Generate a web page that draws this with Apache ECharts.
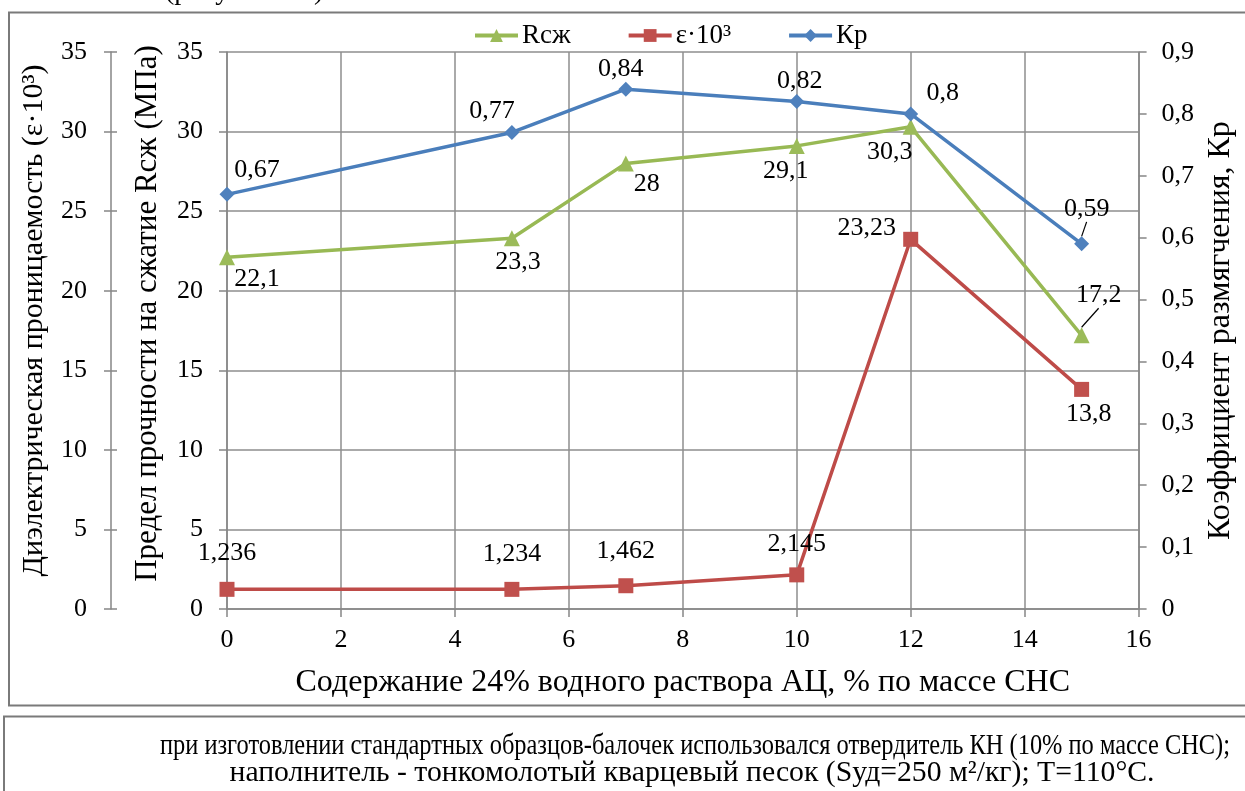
<!DOCTYPE html>
<html>
<head>
<meta charset="utf-8">
<script src="https://cdn.jsdelivr.net/npm/echarts@6/dist/echarts.min.js"></script>
<style>
  html, body { margin: 0; padding: 0; background: #fff; }
  #chart { width: 1245px; height: 791px; }
</style>
</head>
<body>
<div id="chart"></div>
<script>
// Содержание раствора АЦ, % по массе СНС
const concentration = [0, 5, 7, 10, 12, 15];
// Предел прочности на сжатие Rсж, МПа
const strength = [22.1, 23.3, 28, 29.1, 30.3, 17.2];
// Диэлектрическая проницаемость ε·10³
const permittivity = [1.236, 1.234, 1.462, 2.145, 23.23, 13.8];
// Коэффициент размягчения Кр
const softening = [0.67, 0.77, 0.84, 0.82, 0.8, 0.59];

const seriesNames = ['Rсж', 'ε·10³', 'Кр'];
const xTicks = { min: 0, max: 16, step: 2 };
const leftTicks = { min: 0, max: 35, step: 5 };
const rightTicks = { min: 0, max: 0.9, step: 0.1 };

const FONT = 'Liberation Serif';
const AXIS_GRAY = '#868686';
const GRID_GRAY = '#8e8e8e';
const NAME_SIZE = 32;

// label shifts (px) from each marker centre, per series
const labelShift = [
  [[30, 22], [6, 24], [21, 21], [-11, 25], [-21, 25], [17, -40]],
  [[0, -36], [0, -35], [0, -35], [0, -31], [-44, -11], [7, 25]],
  [[30, -24], [-20, -21], [-5, -20], [3, -20], [32, -21], [5, -35]]
];
// labels that get a leader line
const leaderLines = [[5], [], [5]];

const fmtComma = v => String(v).replace('.', ',');

function buildData(values, si) {
  return values.map((v, i) => ({
    value: [concentration[i], v],
    labelLine: { show: leaderLines[si].includes(i) }
  }));
}

const chart = echarts.init(document.getElementById('chart'), null, { renderer: 'canvas' });

const labelBase = {
  show: true,
  position: 'inside',
  color: '#000',
  fontFamily: FONT,
  fontSize: 26,
  formatter: p => fmtComma(p.value[1])
};

function labelLayout(p) {
  const s = labelShift[p.seriesIndex][p.dataIndex];
  return {
    x: p.rect.x + p.rect.width / 2 + s[0],
    y: p.rect.y + p.rect.height / 2 + s[1],
    align: 'center',
    verticalAlign: 'middle'
  };
}

const labelLineStyle = { show: false, lineStyle: { color: '#000', width: 1.2 } };

function yAxisCommon(range) {
  return {
    type: 'value',
    min: range.min,
    max: range.max,
    interval: range.step,
    axisLine: { show: true, lineStyle: { color: AXIS_GRAY, width: 1.5 } },
    axisTick: { show: true, length: 8, lineStyle: { color: AXIS_GRAY, width: 1.5 } },
    axisLabel: { color: '#000', fontFamily: FONT, fontSize: 26, margin: 24 },
    nameLocation: 'middle',
    nameRotate: 90,
    nameTextStyle: { color: '#000', fontFamily: FONT, fontSize: NAME_SIZE }
  };
}

// caption lines under the chart, condensed to their printed width
const captionLines = [
  'при изготовлении стандартных образцов-балочек использовался отвердитель КН (10% по массе СНС);',
  'наполнитель - тонкомолотый кварцевый песок (Sуд=250 м²/кг); Т=110°С.'
];
const captionWidths = [1070, 925];
const captionFont = 30;
const measureCtx = document.createElement('canvas').getContext('2d');
measureCtx.font = captionFont + 'px "Liberation Serif"';

const captionGraphics = captionLines.map((t, i) => {
  const w = measureCtx.measureText(t).width;
  return {
    type: 'text',
    x: [695, 692][i],
    y: [746, 773][i],
    scaleX: captionWidths[i] / w,
    style: {
      text: t,
      fill: '#000',
      fontFamily: FONT,
      fontSize: captionFont,
      align: 'center',
      verticalAlign: 'middle'
    }
  };
});

const option = {
  backgroundColor: '#fff',
  animation: false,
  textStyle: { fontFamily: FONT },
  grid: { left: 227, right: 106, top: 52, bottom: 182, containLabel: false },
  legend: {
    top: 22,
    left: 473,
    padding: 0,
    itemWidth: 43,
    itemHeight: 16,
    itemGap: 56,
    lineStyle: { width: 4 },
    textStyle: { color: '#000', fontFamily: FONT, fontSize: 27, padding: [0, 0, 0, -1] },
    data: seriesNames
  },
  xAxis: {
    type: 'value',
    min: xTicks.min,
    max: xTicks.max,
    interval: xTicks.step,
    axisLine: { show: true, onZero: false, lineStyle: { color: AXIS_GRAY, width: 1.5 } },
    axisTick: { show: true, length: 8, lineStyle: { color: AXIS_GRAY, width: 1.5 } },
    axisLabel: { color: '#000', fontFamily: FONT, fontSize: 26, margin: 18 },
    splitLine: { show: true, lineStyle: { color: GRID_GRAY, width: 1.5 } },
    name: 'Содержание 24% водного раствора АЦ, % по массе СНС',
    nameLocation: 'middle',
    nameGap: 58,
    nameTextStyle: { color: '#000', fontFamily: FONT, fontSize: NAME_SIZE }
  },
  yAxis: [
    Object.assign(yAxisCommon(leftTicks), {
      position: 'left',
      name: 'Предел прочности на сжатие Rсж (МПа)',
      nameGap: 64,
      // left padding lifts the title a little above the axis middle
      nameTextStyle: { color: '#000', fontFamily: FONT, fontSize: 31, padding: [0, 0, 0, 34] },
      splitLine: { show: true, lineStyle: { color: GRID_GRAY, width: 1.5 } }
    }),
    Object.assign(yAxisCommon(leftTicks), {
      position: 'left',
      offset: 116,
      name: 'Диэлектрическая проницаемость (ε·10³)',
      nameGap: 62,
      nameTextStyle: { color: '#000', fontFamily: FONT, fontSize: 30, padding: [0, 0, 0, 20] },
      splitLine: { show: false },
      axisTick: { show: true, length: 7, lineStyle: { color: AXIS_GRAY, width: 1.5 } }
    }),
    Object.assign(yAxisCommon(rightTicks), {
      position: 'right',
      name: 'Коэффициент размягчения, Кр',
      nameGap: 65,
      splitLine: { show: false },
      axisLabel: {
        color: '#000', fontFamily: FONT, fontSize: 26, margin: 23,
        formatter: v => (v === 0 ? '0' : v.toFixed(1).replace('.', ','))
      }
    }),
    // inner half of the cross ticks on the permittivity axis
    {
      type: 'value',
      position: 'left',
      offset: 116,
      min: leftTicks.min,
      max: leftTicks.max,
      interval: leftTicks.step,
      axisLine: { show: false },
      axisTick: { show: true, inside: true, length: 6, lineStyle: { color: AXIS_GRAY, width: 1.5 } },
      axisLabel: { show: false },
      splitLine: { show: false }
    }
  ],
  series: [
    {
      name: seriesNames[0],
      type: 'line',
      yAxisIndex: 0,
      data: buildData(strength, 0),
      symbol: 'triangle',
      symbolSize: 16,
      color: '#9BBB59',
      lineStyle: { color: '#98B954', width: 3.5 },
      itemStyle: { color: '#9BBB59' },
      label: labelBase,
      labelLine: labelLineStyle,
      labelLayout: labelLayout,
      z: 3
    },
    {
      name: seriesNames[1],
      type: 'line',
      yAxisIndex: 1,
      data: buildData(permittivity, 1),
      symbol: 'rect',
      symbolSize: 15,
      color: '#C0504D',
      lineStyle: { color: '#BE4B48', width: 3.5 },
      itemStyle: { color: '#C0504D' },
      label: labelBase,
      labelLine: labelLineStyle,
      labelLayout: labelLayout,
      z: 3
    },
    {
      name: seriesNames[2],
      type: 'line',
      yAxisIndex: 2,
      data: buildData(softening, 2),
      symbol: 'diamond',
      symbolSize: 15,
      color: '#4F81BD',
      lineStyle: { color: '#4A7EBB', width: 3.5 },
      itemStyle: { color: '#4F81BD' },
      label: labelBase,
      labelLine: labelLineStyle,
      labelLayout: labelLayout,
      z: 4
    }
  ],
  graphic: [
    {
      type: 'text',
      x: 165,
      y: 6,
      style: {
        text: '(рисунок 3.1)',
        fill: '#000',
        fontFamily: FONT,
        fontSize: 28,
        align: 'left',
        verticalAlign: 'bottom'
      }
    },
    {
      type: 'rect',
      shape: { x: 9, y: 12.5, width: 1260, height: 693 },
      style: { fill: 'none', stroke: '#7a7a7a', lineWidth: 2 },
      silent: true
    },
    {
      type: 'rect',
      shape: { x: 4, y: 716.5, width: 1270, height: 120 },
      style: { fill: 'none', stroke: '#7a7a7a', lineWidth: 2 },
      silent: true
    }
  ].concat(captionGraphics)
};

chart.setOption(option);
</script>
</body>
</html>
